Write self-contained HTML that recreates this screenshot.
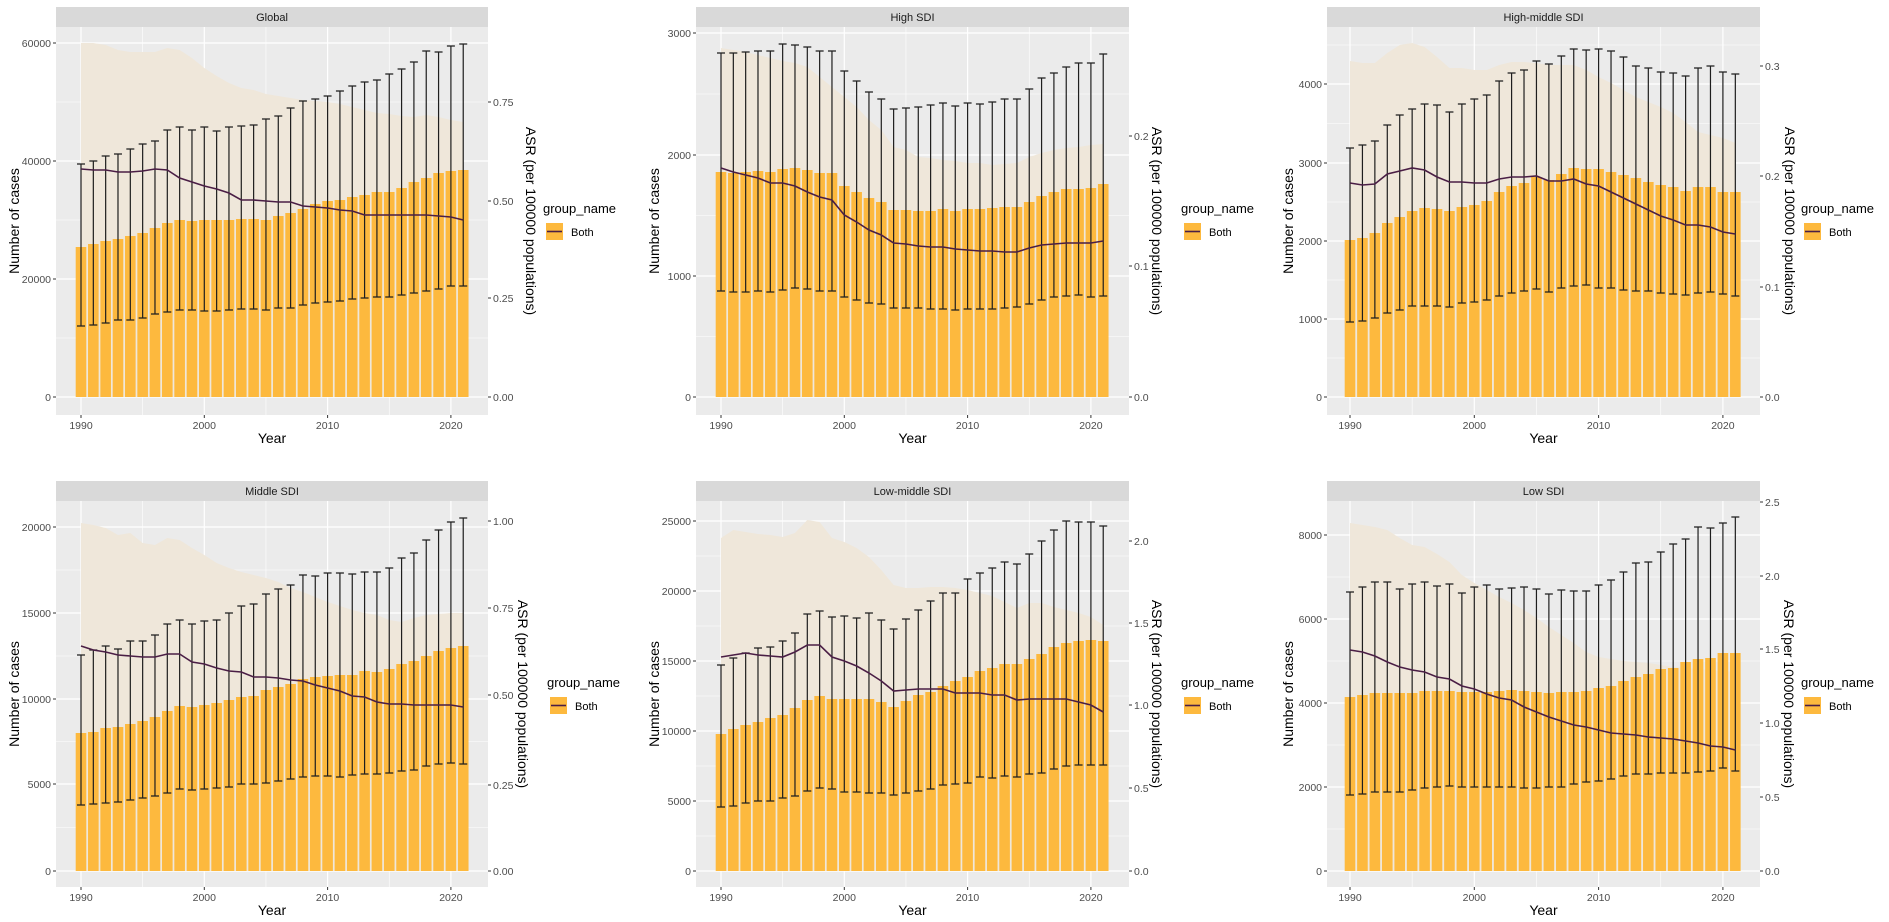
<!DOCTYPE html>
<html><head><meta charset="utf-8"><style>
html,body{margin:0;padding:0;background:#fff}
svg{display:block}
text{font-family:"Liberation Sans",Arial,sans-serif}
</style></head><body>
<svg id="s" width="1889" height="922" xmlns="http://www.w3.org/2000/svg"></svg>
<script>
const P=[
{t:"Global",row:0,off:0,L:56,R:488,x0:81,st:12.33,zero:397,
 lt:[[397,"0"],[279,"20000"],[161,"40000"],[43,"60000"]],
 rt:[[397,"0.00"],[298,"0.25"],[201,"0.50"],[102,"0.75"]],asr:531,lg:543,
 bar:[247,244,241,239,236,233,228,223,220,221,220,220,220,219,219,220,216,213,209,204,201,200,197,195,192,192,188,182,178,173,171,170],
 up:[164,161,156,154,149,144,141,130,127,130,127,131,127,126,125,119,116,108,101,99,96,91,86,82,80,74,69,62,51,52,46,44],
 lo:[326,325,323,320,320,318,314,312,310,310,311,311,310,309,309,310,308,308,305,303,302,301,299,298,297,297,295,293,291,289,286,286],
 ln:[169,170,170,172,172,171,169,170,178,182,186,189,193,200,200,201,202,202,206,207,208,210,211,215,215,215,215,215,215,216,217,220],
 rb:[43,43,45,50,52,52,52,48,50,58,68,76,83,88,90,94,96,98,100,101,102,104,107,110,113,114,116,117,115,117,120,122]},
{t:"High SDI",row:0,off:0,L:696,R:1129,x0:721,st:12.33,zero:397,
 lt:[[397,"0"],[276,"1000"],[155,"2000"],[33,"3000"]],
 rt:[[397,"0.0"],[266,"0.1"],[136,"0.2"]],asr:1157,lg:1181,
 bar:[172,173,172,171,172,169,168,170,173,173,186,192,198,202,210,210,211,211,209,211,209,209,208,207,207,202,196,192,189,189,188,184],
 up:[53,53,52,51,51,44,45,47,51,51,71,81,92,99,109,108,107,105,103,106,103,104,102,99,99,89,78,73,67,63,63,54],
 lo:[291,292,292,291,292,290,288,289,291,291,297,300,303,304,308,308,308,309,309,310,309,309,309,308,307,304,300,297,296,295,297,296],
 ln:[168,172,175,178,183,183,186,192,197,200,215,222,230,235,243,244,246,247,247,249,250,251,251,252,252,248,245,244,243,243,243,241],
 rb:[48,50,52,55,58,61,63,67,77,87,97,107,120,130,147,150,157,158,160,161,163,163,165,164,163,157,153,150,148,147,145,144]},
{t:"High-middle SDI",row:0,off:0,L:1327,R:1760,x0:1350,st:12.43,zero:397,
 lt:[[397,"0"],[319,"1000"],[241,"2000"],[163,"3000"],[84,"4000"]],
 rt:[[397,"0.0"],[287,"0.1"],[176,"0.2"],[66,"0.3"]],asr:1790,lg:1801,
 bar:[240,238,233,223,217,211,208,209,211,207,205,201,192,186,183,177,180,174,168,169,169,172,175,178,182,185,187,191,187,187,192,192],
 up:[148,145,141,125,115,109,104,105,112,104,99,95,81,73,70,61,64,56,49,50,49,51,57,66,68,72,73,76,68,66,72,74],
 lo:[322,321,318,313,310,306,306,306,307,303,302,300,296,293,291,289,292,288,286,285,288,288,290,291,291,293,294,295,293,292,294,296],
 ln:[183,185,184,174,171,168,170,177,182,182,183,183,179,177,177,176,181,181,179,184,186,192,198,204,210,216,220,225,225,227,232,234],
 rb:[61,63,63,53,45,43,47,57,68,68,70,70,65,62,62,63,65,65,65,70,77,83,90,97,102,107,113,122,132,135,138,143]},
{t:"Middle SDI",row:1,off:470,L:56,R:488,x0:81,st:12.33,zero:401,
 lt:[[401,"0"],[314,"5000"],[229,"10000"],[143,"15000"],[57,"20000"]],
 rt:[[401,"0.00"],[315,"0.25"],[225,"0.50"],[138,"0.75"],[51,"1.00"]],asr:523,lg:547,
 bar:[263,262,258,257,254,251,247,241,236,237,235,233,230,227,226,220,217,214,209,207,206,205,205,201,202,199,194,191,186,181,178,176],
 up:[185,180,176,179,171,171,165,154,150,154,151,150,143,136,134,124,119,115,105,106,103,103,104,102,102,98,88,83,70,60,52,48],
 lo:[335,334,333,332,330,328,326,323,319,320,319,318,317,314,314,313,311,309,307,306,306,307,305,304,304,303,301,300,296,294,293,294],
 ln:[176,180,182,185,186,187,187,184,184,192,194,198,201,202,207,207,208,210,211,215,218,221,226,227,232,234,234,235,235,235,235,237],
 rb:[53,55,58,65,63,73,75,68,70,78,85,93,98,102,105,108,112,118,122,127,132,136,140,143,145,150,152,148,145,144,143,143]},
{t:"Low-middle SDI",row:1,off:470,L:696,R:1129,x0:721,st:12.33,zero:401,
 lt:[[401,"0"],[331,"5000"],[261,"10000"],[191,"15000"],[121,"20000"],[51,"25000"]],
 rt:[[401,"0.0"],[318,"0.5"],[235,"1.0"],[153,"1.5"],[71,"2.0"]],asr:1157,lg:1181,
 bar:[264,259,255,252,248,245,238,230,226,229,229,229,229,232,237,231,225,222,216,211,207,201,198,194,194,189,184,177,173,171,170,171],
 up:[195,188,183,178,177,171,163,144,141,147,146,148,143,150,159,149,140,131,123,123,109,103,98,92,94,84,71,60,51,52,52,56],
 lo:[337,336,333,331,331,328,326,321,318,319,322,322,323,323,325,323,321,319,315,314,313,307,308,306,307,304,303,299,296,295,295,295],
 ln:[187,185,183,185,186,187,182,175,175,187,191,196,203,211,221,220,219,219,219,223,223,223,225,225,230,229,229,229,229,232,235,242],
 rb:[68,60,62,64,65,67,63,50,52,68,72,78,87,100,115,118,118,117,117,118,120,123,126,132,138,133,133,137,140,143,147,155]},
{t:"Low SDI",row:1,off:470,L:1327,R:1760,x0:1350,st:12.43,zero:401,
 lt:[[401,"0"],[317,"2000"],[233,"4000"],[149,"6000"],[65,"8000"]],
 rt:[[401,"0.0"],[327,"0.5"],[253,"1.0"],[179,"1.5"],[106,"2.0"],[32,"2.5"]],asr:1789,lg:1801,
 bar:[227,225,223,223,223,223,221,221,221,222,222,222,221,220,221,222,223,222,222,221,218,216,211,207,204,199,198,192,189,188,183,183],
 up:[122,117,112,112,119,114,112,116,114,123,117,115,119,118,117,119,124,120,121,121,115,110,102,93,92,82,74,69,57,58,53,47],
 lo:[325,324,322,322,322,320,318,317,316,317,317,317,317,317,318,318,317,317,314,312,311,309,306,304,304,303,303,303,302,301,298,301],
 ln:[180,182,186,192,197,200,202,207,209,216,219,224,228,230,237,242,247,251,255,257,260,263,264,265,267,268,269,271,273,276,277,280],
 rb:[53,55,57,60,68,75,77,84,92,105,113,120,127,133,140,148,157,165,173,182,187,189,191,192,193,195,197,198,199,200,201,202]}
];
let h="";
const rows=[{st:7,pt:27,pb:415},{st:481,pt:501,pb:887}];
for(const p of P){
 const r=rows[p.row],o=p.off,X=i=>p.x0+i*p.st;
 const Z=p.zero+o;
 h+=`<rect x="${p.L}" y="${r.st}" width="${p.R-p.L}" height="${r.pt-r.st}" fill="#D9D9D9"/>`;
 h+=`<text x="${(p.L+p.R)/2}" y="${r.st+14}" font-size="11" text-anchor="middle" fill="#1A1A1A">${p.t}</text>`;
 h+=`<rect x="${p.L}" y="${r.pt}" width="${p.R-p.L}" height="${r.pb-r.pt}" fill="#EBEBEB"/>`;
 const lt=p.lt.map(a=>a[0]+o);
 for(let k=0;k<lt.length-1;k++){const m=(lt[k]+lt[k+1])/2;h+=`<line x1="${p.L}" x2="${p.R}" y1="${m}" y2="${m}" stroke="#fff" stroke-width="0.6"/>`;}
 {const m=lt[lt.length-1]-(lt[0]-lt[1])/2; if(m>r.pt)h+=`<line x1="${p.L}" x2="${p.R}" y1="${m}" y2="${m}" stroke="#fff" stroke-width="0.6"/>`;}
 for(const y of lt)h+=`<line x1="${p.L}" x2="${p.R}" y1="${y}" y2="${y}" stroke="#fff" stroke-width="1.2"/>`;
 for(const yr of [1995,2005,2015])h+=`<line x1="${X(yr-1990)}" x2="${X(yr-1990)}" y1="${r.pt}" y2="${r.pb}" stroke="#fff" stroke-width="0.6"/>`;
 for(const yr of [1990,2000,2010,2020])h+=`<line x1="${X(yr-1990)}" x2="${X(yr-1990)}" y1="${r.pt}" y2="${r.pb}" stroke="#fff" stroke-width="1.2"/>`;
 let pts=p.rb.map((v,i)=>`${X(i)},${v+o}`).join(" ");
 h+=`<polygon points="${X(0)},${Z} ${pts} ${X(31)},${Z}" fill="#EFE7DA"/>`;
 const bw=10.6;
 p.bar.forEach((v,i)=>{h+=`<rect x="${X(i)-bw/2}" y="${v+o}" width="${bw}" height="${Z-v-o}" fill="#FDB93E"/>`;});
 p.up.forEach((v,i)=>{const x=X(i),a=v+o,b=p.lo[i]+o;h+=`<path d="M${x-4} ${a}H${x+4}M${x} ${a}V${b}M${x-4} ${b}H${x+4}" stroke="#1E1E1E" stroke-width="1.2" fill="none"/>`;});
 h+=`<polyline points="${p.ln.map((v,i)=>`${X(i)},${v+o}`).join(" ")}" fill="none" stroke="#4A1E45" stroke-width="1.6"/>`;
 p.lt.forEach(([y,l])=>{y+=o;h+=`<line x1="${p.L-3}" x2="${p.L}" y1="${y}" y2="${y}" stroke="#333"/><text x="${p.L-5}" y="${y+4}" font-size="10.5" text-anchor="end" fill="#4D4D4D">${l}</text>`;});
 p.rt.forEach(([y,l])=>{y+=o;h+=`<line x1="${p.R}" x2="${p.R+3}" y1="${y}" y2="${y}" stroke="#333"/><text x="${p.R+5}" y="${y+4}" font-size="10.5" fill="#4D4D4D">${l}</text>`;});
 [1990,2000,2010,2020].forEach(yr=>{const x=X(yr-1990);h+=`<line x1="${x}" x2="${x}" y1="${r.pb}" y2="${r.pb+3}" stroke="#333"/><text x="${x}" y="${r.pb+14}" font-size="10.5" text-anchor="middle" fill="#4D4D4D">${yr}</text>`;});
 h+=`<text x="${(p.L+p.R)/2}" y="${r.pb+28}" font-size="14" text-anchor="middle" fill="#000">Year</text>`;
 const yc=(r.pt+r.pb)/2;
 h+=`<text transform="translate(${p.L-p.L%640+ (p.L>1300?8:14)+5},${yc}) rotate(-90)" font-size="14" text-anchor="middle" fill="#000">Number of cases</text>`;
 h+=`<text transform="translate(${p.asr-5},${yc}) rotate(90)" font-size="14" text-anchor="middle" fill="#000">ASR (per 100000 populations)</text>`;
 const ly=(p.row?212:208)+(p.row?470:0);
 h+=`<text x="${p.lg}" y="${ly+5}" font-size="13" fill="#000">group_name</text>`;
 h+=`<rect x="${p.lg+3}" y="${ly+15}" width="17" height="17" fill="#FDB93E"/><line x1="${p.lg+4}" x2="${p.lg+19}" y1="${ly+23.5}" y2="${ly+23.5}" stroke="#4A1E45" stroke-width="1.6"/>`;
 h+=`<text x="${p.lg+28}" y="${ly+28}" font-size="11" fill="#000">Both</text>`;
}
document.getElementById("s").innerHTML=h;
</script>
</body></html>
